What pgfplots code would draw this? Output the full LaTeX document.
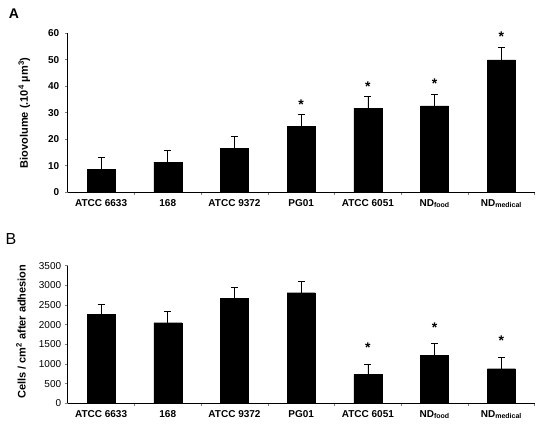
\documentclass[border=0pt]{standalone}
\usepackage{pgfplots}
\pgfplotsset{compat=1.18}
\usepackage{fontspec}
\setmainfont{Liberation Sans}
\newcommand{\fs}{\fontsize{10bp}{12bp}\selectfont}
\pgfplotsset{
  panel/.style={
    scale only axis, width=467bp,
    axis x line=bottom, axis y line=left,
    axis line style={-, line width=0.6pt},
    xmin=-0.5, xmax=6.5, ymin=0,
    xtick={0,...,6},
    xticklabels={ATCC 6633,168,ATCC 9372,PG01,ATCC 6051,ND\textsubscript{food},ND\textsubscript{medical}},
    major x tick style={draw=none},
    minor xtick={0.5,1.5,...,6.5},
    minor x tick style={line width=0.6pt},
    tick align=outside, major tick length=3bp, minor tick length=3bp,
    y tick style={line width=0.6pt},
    xticklabel style={font=\fs\bfseries, text height=7.5bp, text depth=2bp},
    /pgf/number format/assume math mode=true,
    /pgf/number format/1000 sep={},
    every axis y label/.style={rotate=90, anchor=south, font=\fontsize{11bp}{13bp}\selectfont\bfseries},
    ybar, bar width=28bp,
    clip=false,
  },
  bars/.style={fill=black, draw=black,
    error bars/.cd, y dir=plus, y explicit,
    error bar style={line width=0.6pt, black},
    error mark options={rotate=90, mark size=3.5bp, line width=0.6pt, black}},
  stars/.style={draw=none, mark=none, forget plot,
    nodes near coords={\fontsize{14bp}{14bp}\selectfont\bfseries *},
    every node near coord/.style={anchor=center, inner sep=0pt}},
}
\begin{document}
\begin{tikzpicture}
\path[use as bounding box, fill=white] (0bp,0bp) rectangle (539bp,427bp);
\node[font=\fontsize{14bp}{16bp}\selectfont\bfseries] at (14bp,413bp) {A};
\node[font=\fontsize{16bp}{18bp}\selectfont] at (11bp,188bp) {B};

\begin{axis}[panel, at={(67.7bp,234.7bp)}, anchor=south west,
  height=159bp, ymax=60, ytick={0,10,...,60},
  yticklabel style={font=\fs\bfseries, xshift=-2bp},
  ylabel={Biovolume (.10\textsuperscript{4} µm\textsuperscript{3})},
  every axis y label/.append style={at={(axis description cs:-0.073,0.5)}}]
\addplot[bars] coordinates {
  (0,8.6) +- (0,4.5)
  (1,11.4) +- (0,4.3)
  (2,16.5) +- (0,4.7)
  (3,24.8) +- (0,4.6)
  (4,31.8) +- (0,4.4)
  (5,32.6) +- (0,4.4)
  (6,50.0) +- (0,4.6)
};
\addplot[stars] coordinates {(3,33.0) (4,40.0) (5,40.9) (6,58.8)};
\end{axis}

\begin{axis}[panel, at={(67.7bp,23.7bp)}, anchor=south west,
  height=137.6bp, ymax=3500, ytick={0,500,...,3500},
  yticklabel style={font=\fs},
  ylabel={Cells / cm\textsuperscript{2} after adhesion},
  every axis y label/.append style={at={(axis description cs:-0.082,0.52)}}]
\addplot[bars] coordinates {
  (0,2254) +- (0,272)
  (1,2050) +- (0,290)
  (2,2678) +- (0,272)
  (3,2813) +- (0,280)
  (4,728) +- (0,272)
  (5,1221) +- (0,295)
  (6,880) +- (0,280)
};
\addplot[stars] coordinates {(4,1420) (5,1920) (6,1590)};
\end{axis}
\end{tikzpicture}
\end{document}
